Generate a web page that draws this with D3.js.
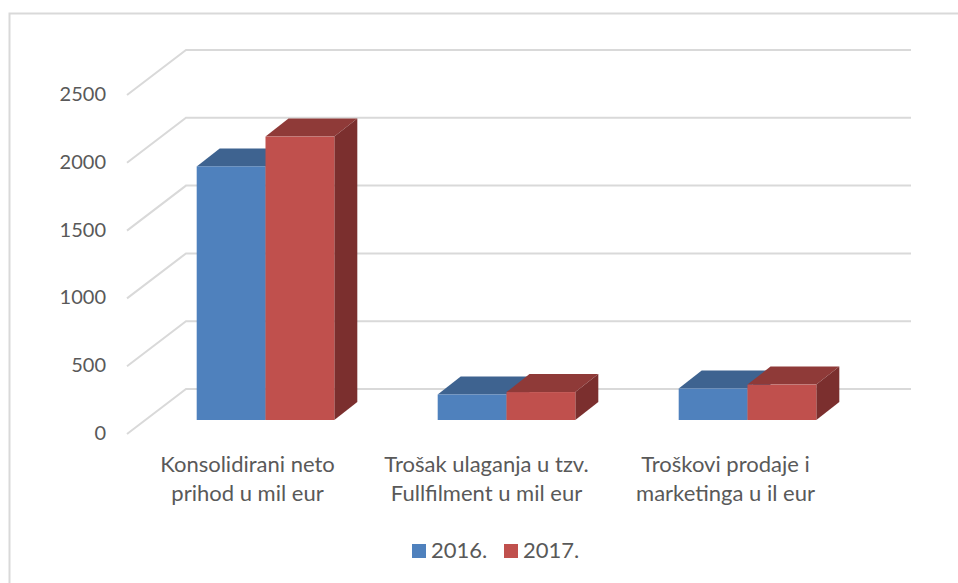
<!DOCTYPE html>
<html>
<head>
<meta charset="utf-8">
<script src="https://cdnjs.cloudflare.com/ajax/libs/d3/7.8.5/d3.min.js"></script>
<style>
  html, body { margin: 0; padding: 0; background: #fff; }
  text { font-family: Lato, "Open Sans", sans-serif; fill: #595959; }
</style>
</head>
<body>
<script>
let width = 958;
let height = 583;

let categories = [["Konsolidirani neto", "prihod u mil eur"],
                  ["Trošak ulaganja u tzv.", "Fullfilment u mil eur"],
                  ["Troškovi prodaje i", "marketinga u il eur"]];
let years = ["2016.", "2017."];
let values2016 = [1870, 188, 232];
let values2017 = [2090, 206, 261];
let yTicks = [0, 500, 1000, 1500, 2000, 2500];

let colors = { "2016.": "#4f81bd", "2017.": "#c0504d" };
let topColors = { "2016.": "#3e6390", "2017.": "#8f3a38" };
let sideColors = { "2016.": "#2f4b6e", "2017.": "#7b2f2e" };

//scales, the front wall of the chart

let yScale = d3.scaleLinear().domain([0, 2500]).range([434, 95]);
let xScale = d3.scaleBand()
    .domain(d3.range(categories.length))
    .range([127, 850])
    .paddingInner(0.429)
    .paddingOuter(0.2145);
let seriesScale = d3.scaleBand()
    .domain(years)
    .range([0, xScale.bandwidth()]);

// depth of the floor and of the bars
let depthX = 59, depthY = 45;
let barOffX = 18, barOffY = 14;
let barDepthX = 23, barDepthY = 18;

let svg = d3.select("body")
    .append("svg")
    .attr("width", width)
    .attr("height", height)
    .style("display", "block");

//outer border, only top and left are in the picture

svg.append("path")
    .attr("d", d3.line()([[9.5, height], [9.5, 13.5], [width, 13.5]]))
    .attr("fill", "none")
    .attr("stroke", "#d9d9d9")
    .attr("stroke-width", 2);

//gridlines

let grid = svg.append("g")
    .attr("fill", "none")
    .attr("stroke", "#d9d9d9")
    .attr("stroke-width", 2);

grid.selectAll("path")
    .data(yTicks)
    .enter()
    .append("path")
    .attr("d", function(d) {
        let y = yScale(d);
        return d3.line()([[127, y], [127 + depthX, y - depthY], [852 + depthX, y - depthY]]);
    });

//y labels

svg.selectAll(".ylabel")
    .data(yTicks)
    .enter()
    .append("text")
    .attr("class", "ylabel")
    .text(function(d) { return d; })
    .attr("x", 106)
    .attr("y", function(d) { return yScale(d) + 6; })
    .attr("text-anchor", "end")
    .attr("font-size", "20px");

//bars

let rows = [];
years.forEach(function(year, s) {
    let vals = s === 0 ? values2016 : values2017;
    vals.forEach(function(v, i) {
        rows.push({ year: year, i: i, v: v });
    });
});

let bars = svg.selectAll(".bar")
    .data(rows)
    .enter()
    .append("g")
    .attr("class", "bar");

function barBox(d) {
    return {
        x0: xScale(d.i) + barOffX + seriesScale(d.year),
        x1: xScale(d.i) + barOffX + seriesScale(d.year) + seriesScale.bandwidth(),
        y0: yScale(0) - barOffY,
        y1: yScale(d.v) - barOffY
    };
}

//top face
bars.append("polygon")
    .attr("fill", function(d) { return topColors[d.year]; })
    .attr("points", function(d) {
        let b = barBox(d);
        return [[b.x0, b.y1], [b.x0 + barDepthX, b.y1 - barDepthY],
                [b.x1 + barDepthX, b.y1 - barDepthY], [b.x1, b.y1]].join(" ");
    });

//side face
bars.append("polygon")
    .attr("fill", function(d) { return sideColors[d.year]; })
    .attr("points", function(d) {
        let b = barBox(d);
        return [[b.x1, b.y1], [b.x1 + barDepthX, b.y1 - barDepthY],
                [b.x1 + barDepthX, b.y0 - barDepthY], [b.x1, b.y0]].join(" ");
    });

//front face
bars.append("rect")
    .attr("fill", function(d) { return colors[d.year]; })
    .attr("x", function(d) { return barBox(d).x0; })
    .attr("y", function(d) { return barBox(d).y1; })
    .attr("width", seriesScale.bandwidth())
    .attr("height", function(d) { let b = barBox(d); return b.y0 - b.y1; });

//category labels

let catLabels = svg.selectAll(".cat")
    .data(categories)
    .enter()
    .append("text")
    .attr("class", "cat")
    .attr("text-anchor", "middle")
    .attr("font-size", "22px")
    .attr("transform", function(d, i) {
        return "translate(" + (xScale(i) + xScale.bandwidth() / 2 - i * 2) + ",0)";
    });

catLabels.selectAll("tspan")
    .data(function(d) { return d; })
    .enter()
    .append("tspan")
    .attr("x", 0)
    .attr("y", function(d, i) { return 472 + i * 29; })
    .text(function(d) { return d; });

//legend

let legend = svg.selectAll(".legend")
    .data(years)
    .enter()
    .append("g")
    .attr("class", "legend")
    .attr("transform", function(d, i) { return "translate(" + (412 + i * 92) + ",544)"; });

legend.append("rect")
    .attr("width", 14).attr("height", 14)
    .attr("fill", function(d) { return colors[d]; });

legend.append("text")
    .text(function(d) { return d; })
    .attr("x", 19)
    .attr("y", 14)
    .attr("font-size", "22px");
</script>
</body>
</html>
